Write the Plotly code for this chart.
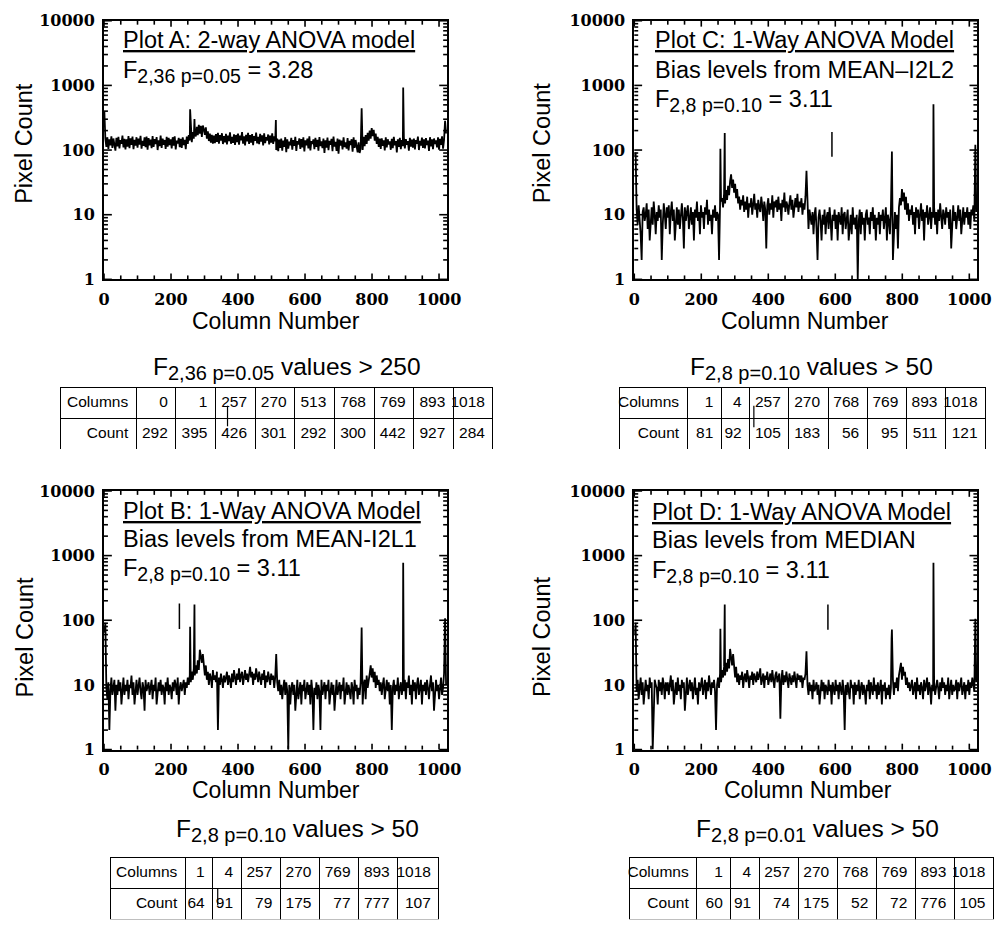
import math
import plotly.graph_objects as go

W, H = 1008, 930


def px(x):
    return x / W


def py(y):
    return 1 - y / H


# Profiles are sampled every 3rd column: 31 rows of 11 values (33 columns per row)
grid_cols = list(range(1, 1024, 3))

# Plot A: 2-way ANOVA pixel counts
counts_a = [
    230, 150, 112, 158, 104, 146, 118, 163, 108, 151, 121,   # col 1
    98, 155, 114, 160, 106, 142, 125, 168, 110, 149, 102,    # col 34
    147, 113, 165, 107, 152, 120, 161, 103, 144, 117, 158,   # col 67
    109, 150, 122, 166, 105, 139, 116, 157, 111, 162, 101,   # col 100
    153, 118, 145, 107, 164, 112, 148, 124, 159, 100, 141,   # col 133
    115, 167, 108, 150, 121, 143, 104, 160, 113, 155, 119,   # col 166
    146, 106, 158, 117, 163, 102, 140, 126, 154, 111, 149,   # col 199
    108, 157, 119, 144, 103, 161, 125, 170, 140, 185, 132,   # col 232
    190, 150, 205, 162, 228, 170, 245, 180, 236, 160, 240,   # col 265
    210, 172, 225, 150, 195, 138, 180, 130, 172, 126, 168,   # col 298
    128, 176, 134, 185, 126, 170, 140, 182, 124, 165, 131,   # col 331
    178, 122, 168, 137, 188, 125, 160, 129, 175, 120, 171,   # col 364
    133, 180, 121, 167, 142, 190, 126, 163, 118, 172, 136,   # col 397
    184, 124, 170, 130, 176, 119, 165, 139, 186, 127, 160,   # col 430
    123, 178, 135, 169, 118, 182, 128, 158, 141, 174, 122,   # col 463
    167, 130, 181, 125, 163, 137, 100, 150, 96, 145, 108,    # col 496
    151, 98, 140, 112, 158, 93, 147, 105, 135, 119, 154,     # col 529
    101, 143, 116, 160, 97, 138, 122, 152, 104, 148, 110,    # col 562
    157, 95, 141, 118, 150, 106, 163, 99, 137, 124, 146,     # col 595
    103, 155, 112, 144, 98, 159, 115, 136, 107, 151, 90,     # col 628
    142, 109, 156, 100, 139, 121, 149, 96, 162, 113, 134,    # col 661
    97, 150, 88, 145, 117, 140, 102, 157, 111, 131, 105,     # col 694
    153, 99, 139, 120, 147, 94, 158, 108, 143, 115, 92,      # col 727
    132, 90, 105, 145, 100, 160, 115, 170, 125, 185, 140,    # col 760
    200, 150, 218, 165, 205, 140, 180, 125, 160, 112, 150,   # col 793
    104, 152, 116, 141, 99, 158, 110, 147, 122, 136, 101,    # col 826
    149, 107, 160, 118, 138, 92, 146, 112, 155, 103, 142,    # col 859
    115, 159, 106, 148, 121, 137, 98, 154, 113, 145, 109,    # col 892
    150, 102, 143, 125, 161, 100, 139, 117, 156, 108, 147,   # col 925
    106, 153, 119, 140, 97, 158, 114, 146, 103, 151, 124,    # col 958
    141, 110, 157, 101, 149, 120, 163, 105, 144, 152, 180,   # col 991
]

# Plot C: 1-way ANOVA, bias levels from MEAN-I2L2
counts_c = [
    60, 60, 12, 7, 14, 9, 5, 2, 11, 13, 8,      # col 1
    10, 15, 6, 12, 4, 9, 13, 7, 16, 10, 5,      # col 34
    11, 8, 14, 9, 12, 2, 7, 15, 10, 6, 13,      # col 67
    9, 14, 5, 11, 16, 8, 12, 4, 10, 13, 7,      # col 100
    12, 6, 10, 15, 9, 3, 13, 8, 11, 14, 6,      # col 133
    10, 13, 7, 11, 4, 12, 9, 16, 8, 11, 5,      # col 166
    14, 9, 11, 6, 13, 10, 17, 7, 12, 8, 10,     # col 199
    5, 12, 9, 14, 8, 11, 10, 2, 14, 16, 18,     # col 232
    13, 21, 15, 24, 17, 28, 20, 33, 42, 26, 35, # col 265
    22, 30, 18, 25, 15, 19, 12, 17, 14, 20, 11, # col 298
    16, 12, 19, 9, 15, 13, 18, 10, 14, 21, 12,  # col 331
    15, 9, 17, 13, 11, 19, 14, 8, 16, 12, 3,    # col 364
    14, 18, 10, 15, 12, 20, 9, 16, 13, 17, 11,  # col 397
    19, 12, 15, 8, 17, 13, 22, 11, 16, 14, 10,  # col 430
    15, 20, 12, 17, 9, 14, 18, 13, 21, 11, 16,  # col 463
    13, 18, 10, 15, 12, 19, 48, 11, 6, 12, 9,   # col 496
    7, 11, 5, 10, 13, 6, 2, 9, 12, 8, 4,        # col 529
    10, 7, 12, 5, 9, 11, 6, 13, 8, 4, 10,       # col 562
    8, 12, 6, 10, 4, 11, 9, 7, 13, 5, 10,       # col 595
    11, 6, 9, 12, 4, 8, 10, 5, 13, 7, 9,        # col 628
    6, 10, 1, 8, 12, 5, 11, 7, 9, 4, 10,        # col 661
    12, 7, 9, 5, 11, 8, 13, 6, 10, 4, 9,        # col 694
    7, 11, 5, 10, 8, 12, 6, 9, 13, 4, 10,       # col 727
    8, 5, 12, 9, 2, 7, 11, 6, 10, 3, 13,        # col 760
    18, 14, 25, 16, 22, 12, 19, 10, 15, 8, 12,  # col 793
    10, 14, 7, 11, 5, 13, 9, 12, 6, 10, 15,     # col 826
    8, 12, 4, 11, 9, 14, 7, 10, 13, 6, 11,      # col 859
    9, 13, 7, 11, 5, 12, 8, 15, 10, 6, 12,      # col 892
    10, 7, 13, 9, 11, 6, 12, 3, 10, 14, 8,      # col 925
    11, 6, 9, 14, 8, 12, 5, 10, 13, 7, 11,      # col 958
    9, 13, 7, 11, 6, 12, 10, 14, 8, 15, 11,     # col 991
]

# Plot B: 1-way ANOVA, bias levels from MEAN-I2L1
counts_b = [
    64, 91, 9, 6, 11, 2, 8, 13, 7, 10, 12,      # col 1
    4, 10, 7, 12, 8, 11, 5, 9, 13, 7, 10,       # col 34
    8, 12, 6, 10, 9, 14, 7, 11, 5, 9, 12,       # col 67
    7, 10, 13, 8, 6, 11, 9, 4, 12, 8, 10,       # col 100
    11, 7, 9, 12, 6, 10, 8, 13, 5, 9, 11,       # col 133
    8, 12, 7, 10, 9, 5, 11, 8, 13, 7, 10,       # col 166
    9, 6, 11, 8, 12, 10, 7, 13, 5, 9, 11,       # col 199
    8, 10, 12, 7, 11, 9, 13, 10, 14, 11, 16,    # col 232
    12, 18, 14, 20, 15, 24, 17, 35, 28, 22, 30, # col 265
    18, 14, 20, 12, 16, 10, 15, 13, 9, 17, 12,  # col 298
    14, 11, 16, 2, 13, 10, 15, 12, 9, 14, 11,   # col 331
    13, 16, 10, 14, 12, 9, 15, 11, 17, 13, 10,  # col 364
    15, 12, 18, 11, 14, 16, 10, 13, 17, 12, 15, # col 397
    11, 14, 19, 13, 16, 10, 15, 12, 18, 14, 11, # col 430
    16, 13, 10, 15, 12, 17, 9, 14, 11, 16, 13,  # col 463
    10, 15, 12, 14, 9, 13, 30, 11, 8, 12, 7,    # col 496
    10, 6, 9, 12, 7, 11, 8, 1, 10, 5, 9,        # col 529
    11, 7, 10, 4, 9, 12, 6, 8, 11, 5, 10,       # col 562
    8, 12, 6, 9, 11, 7, 10, 5, 12, 8, 2,        # col 595
    9, 7, 11, 6, 10, 8, 2, 12, 7, 9, 11,        # col 628
    6, 10, 8, 12, 5, 9, 11, 7, 10, 4, 8,        # col 661
    12, 7, 9, 11, 6, 10, 8, 13, 5, 9, 11,       # col 694
    7, 10, 8, 6, 11, 9, 5, 12, 8, 10, 6,        # col 727
    9, 7, 11, 8, 5, 10, 12, 6, 14, 9, 11,       # col 760
    15, 20, 13, 18, 11, 16, 9, 14, 10, 12, 8,   # col 793
    11, 7, 10, 13, 6, 9, 12, 8, 11, 5, 10,      # col 826
    2, 9, 12, 7, 10, 8, 13, 6, 9, 11, 7,        # col 859
    10, 8, 12, 6, 11, 9, 14, 7, 10, 5, 12,      # col 892
    8, 11, 6, 10, 13, 7, 9, 12, 5, 10, 8,       # col 925
    11, 7, 12, 9, 6, 10, 14, 8, 11, 4, 9,       # col 958
    12, 8, 10, 6, 11, 13, 7, 9, 15, 12, 10,     # col 991
]

# Plot D: 1-way ANOVA, bias levels from MEDIAN
counts_d = [
    60, 91, 8, 12, 6, 10, 13, 7, 11, 5, 9,      # col 1
    12, 8, 10, 6, 13, 9, 11, 1, 7, 12, 10,      # col 34
    9, 5, 12, 8, 11, 7, 13, 10, 6, 11, 8,       # col 67
    11, 7, 10, 14, 8, 12, 5, 9, 11, 7, 13,      # col 100
    8, 10, 6, 12, 9, 11, 4, 10, 13, 7, 9,       # col 133
    12, 8, 11, 6, 10, 13, 7, 9, 5, 11, 8,       # col 166
    10, 13, 7, 9, 12, 6, 11, 8, 14, 10, 7,      # col 199
    11, 9, 12, 8, 2, 10, 13, 9, 15, 11, 17,     # col 232
    13, 19, 14, 22, 16, 25, 18, 36, 27, 20, 30, # col 265
    17, 13, 19, 11, 15, 10, 14, 12, 16, 9, 13,  # col 298
    15, 11, 17, 13, 9, 14, 12, 16, 10, 15, 13,  # col 331
    11, 16, 12, 14, 18, 10, 13, 15, 9, 14, 12,  # col 364
    16, 10, 13, 15, 11, 17, 12, 9, 14, 16, 11,  # col 397
    13, 15, 3, 12, 17, 10, 14, 11, 16, 13, 9,   # col 430
    15, 12, 10, 14, 11, 16, 13, 9, 15, 12, 14,  # col 463
    11, 14, 9, 13, 12, 15, 33, 10, 7, 11, 8,    # col 496
    10, 6, 12, 8, 9, 11, 7, 10, 5, 9, 12,       # col 529
    8, 11, 6, 10, 9, 7, 12, 8, 10, 5, 11,       # col 562
    9, 7, 12, 8, 10, 6, 11, 9, 7, 12, 8,        # col 595
    2, 10, 7, 11, 8, 6, 12, 9, 10, 5, 11,       # col 628
    7, 10, 8, 12, 6, 9, 11, 7, 10, 8, 5,        # col 661
    10, 8, 12, 6, 11, 9, 7, 13, 8, 10, 6,       # col 694
    11, 7, 9, 12, 5, 10, 8, 11, 6, 9, 7,        # col 727
    10, 6, 9, 8, 12, 7, 11, 9, 13, 8, 14,       # col 760
    17, 22, 12, 19, 14, 16, 10, 13, 9, 11, 8,   # col 793
    10, 12, 7, 9, 11, 6, 13, 8, 10, 7, 11,      # col 826
    9, 6, 12, 8, 10, 13, 7, 11, 9, 5, 10,       # col 859
    8, 11, 7, 10, 12, 9, 6, 11, 8, 13, 9,       # col 892
    11, 7, 10, 8, 13, 6, 9, 12, 7, 10, 8,       # col 925
    9, 12, 6, 11, 8, 10, 13, 7, 9, 11, 6,       # col 958
    10, 8, 12, 7, 11, 9, 13, 10, 8, 14, 11,     # col 991
]

# Columns above the F threshold and their counts (shown in the tables)
tab_a_cols = [0, 1, 257, 270, 513, 768, 769, 893, 1018]
tab_a_counts = [292, 395, 426, 301, 292, 300, 442, 927, 284]
tab_c_cols = [1, 4, 257, 270, 768, 769, 893, 1018]
tab_c_counts = [81, 92, 105, 183, 56, 95, 511, 121]
tab_b_cols = [1, 4, 257, 270, 769, 893, 1018]
tab_b_counts = [64, 91, 79, 175, 77, 777, 107]
tab_d_cols = [1, 4, 257, 270, 768, 769, 893, 1018]
tab_d_counts = [60, 91, 74, 175, 52, 72, 776, 105]

# Short pen strokes on plots B, C, D (column, low, high)
stroke_c = [590, 79, 191]
stroke_b = [225, 73, 182]
stroke_d = [578, 71, 175]

X_RANGE = [0, 1024]
Y_DECADES = 4
x_ticks = [0, 200, 400, 600, 800, 1000]
x_minor_step = 50
y_ticks = [1, 10, 100, 1000, 10000]
y_ticklabels = ["1", "10", "100", "1000", "10000"]
y_minor = [m * 10 ** e for e in range(Y_DECADES) for m in range(2, 10)]


def profile(base, cols, counts):
    s = dict(zip(grid_cols, base))
    s.update(zip(cols, counts))
    xs = sorted(s)
    return xs, [s[c] for c in xs]


SANS = "Liberation Sans"
SERIF = "DejaVu Serif"
TICKFONT = dict(family=SERIF, size=16, color="black", weight="bold")

# (data, table cols, table counts, stroke, axis suffix, left, right, top, bottom)
panels = [
    (counts_a, tab_a_cols, tab_a_counts, None, "", 100, 450, 12, 276),
    (counts_c, tab_c_cols, tab_c_counts, stroke_c, "2", 641, 991, 12, 276),
    (counts_b, tab_b_cols, tab_b_counts, stroke_b, "3", 100, 450, 492, 756),
    (counts_d, tab_d_cols, tab_d_counts, stroke_d, "4", 641, 991, 492, 756),
]

fig = go.Figure()
axes = {}
shapes = []
TICK_LINE = dict(color="black", width=1.6)


def seg(xa, ya, xb, yb):
    return dict(type="line", xref="paper", yref="paper", layer="above",
                x0=px(xa), x1=px(xb), y0=py(ya), y1=py(yb), line=TICK_LINE)


for base, tcols, tcounts, stroke, sfx, x0, x1, yt, yb in panels:
    xs, ys = profile(base, tcols, tcounts)
    fig.add_trace(go.Scatter(
        x=xs, y=ys, mode="lines", line=dict(color="black", width=1.8),
        xaxis="x" + sfx, yaxis="y" + sfx, hoverinfo="skip", showlegend=False))
    if stroke:
        fig.add_trace(go.Scatter(
            x=[stroke[0], stroke[0]], y=[stroke[1], stroke[2]], mode="lines",
            line=dict(color="black", width=1.5),
            xaxis="x" + sfx, yaxis="y" + sfx, hoverinfo="skip", showlegend=False))
    axes["xaxis" + sfx] = dict(
        domain=[px(x0), px(x1)], anchor="y" + sfx, range=X_RANGE,
        tickmode="array", tickvals=x_ticks, ticktext=[str(v) for v in x_ticks],
        ticks="", showline=True, linecolor="black", linewidth=2, mirror=True,
        showgrid=False, zeroline=False, tickfont=TICKFONT, ticklabelstandoff=4,
    )
    axes["yaxis" + sfx] = dict(
        domain=[py(yb), py(yt)], anchor="x" + sfx, type="log", range=[0, Y_DECADES],
        tickmode="array", tickvals=y_ticks, ticktext=y_ticklabels,
        ticks="", showline=True, linecolor="black", linewidth=2, mirror=True,
        showgrid=False, zeroline=False, tickfont=TICKFONT, ticklabelstandoff=4,
    )

    # inward tick marks on all four sides of the frame, placed with the axis scales
    def xpix(v):
        return x0 + (v - X_RANGE[0]) / (X_RANGE[1] - X_RANGE[0]) * (x1 - x0)

    def ypix(v):
        return yb - math.log10(v) / Y_DECADES * (yb - yt)

    for v in range(X_RANGE[0], X_RANGE[1] + 1, x_minor_step):
        ln = 6 if v in x_ticks else 4
        xv = xpix(v)
        shapes.append(seg(xv, yb, xv, yb - ln))
        shapes.append(seg(xv, yt, xv, yt + ln))
    for v in y_ticks + y_minor:
        ln = 8 if v in y_ticks else 4
        yv = ypix(v)
        shapes.append(seg(x0, yv, x0 + ln, yv))
        shapes.append(seg(x1, yv, x1 - ln, yv))


def table(cols, counts, widths, x0, x1, y0, y1, rowh):
    style = dict(align="right", height=rowh, fill_color="white",
                 line=dict(color="black", width=1),
                 font=dict(family=SANS, size=15.5, color="black"))
    return go.Table(
        domain=dict(x=[px(x0), min(1.0, px(x1))], y=[py(y1), py(y0)]),
        columnwidth=widths,
        header=dict(values=["Columns"] + [str(c) for c in cols], **style),
        cells=dict(values=[["Count"]] + [[str(v)] for v in counts], **style),
    )


fig.add_trace(table(tab_a_cols, tab_a_counts, [77] + [40.5] * 9, 56, 497.5, 386, 450, 31))
fig.add_trace(table(tab_c_cols, tab_c_counts, [69, 35, 29, 40, 40, 40, 40, 40, 41], 626, 1000, 386, 450, 31))
fig.add_trace(table(tab_b_cols, tab_b_counts, [76, 28, 29, 40, 40, 40, 40, 42], 107, 442, 866, 930, 31))
fig.add_trace(table(tab_d_cols, tab_d_counts, [69, 35, 29, 40, 40, 40, 40, 40, 40], 636, 1009, 866, 930, 31))

SUB = '<sub><span style="font-size:19.5px">{}</span></sub>'
TSUB = '<sub><span style="font-size:20px">{}</span></sub>'

notes = [
    ("<u>Plot A: 2-way ANOVA model</u>", 117, 32),
    ("F" + SUB.format("2,36 p=0.05") + " = 3.28", 117, 64),
    ("<u>Plot C: 1-Way ANOVA Model</u>", 660, 32),
    ("Bias levels from MEAN\u2013I2L2", 660, 62),
    ("F" + SUB.format("2,8 p=0.10") + " = 3.11", 660, 94),
    ("<u>Plot B: 1-Way ANOVA Model</u>", 117, 512),
    ("Bias levels from MEAN-I2L1", 117, 541),
    ("F" + SUB.format("2,8 p=0.10") + " = 3.11", 117, 573),
    ("<u>Plot D: 1-Way ANOVA Model</u>", 657, 513),
    ("Bias levels from MEDIAN", 657, 542),
    ("F" + SUB.format("2,8 p=0.10") + " = 3.11", 657, 575),
]
ann = []
for text, x, y in notes:
    ann.append(dict(text=text, x=px(x), y=py(y), xref="paper", yref="paper",
                    xanchor="left", yanchor="middle", showarrow=False,
                    font=dict(family=SANS, size=23.5, color="black")))

titles = [
    ("F" + TSUB.format("2,36 p=0.05") + " values > 250", 287, 367),
    ("F" + TSUB.format("2,8 p=0.10") + " values > 50", 822, 367),
    ("F" + TSUB.format("2,8 p=0.10") + " values > 50", 297, 839),
    ("F" + TSUB.format("2,8 p=0.01") + " values > 50", 828, 839),
]
for text, x, y in titles:
    ann.append(dict(text=text, x=px(x), y=py(y), xref="paper", yref="paper",
                    xanchor="center", yanchor="middle", showarrow=False,
                    font=dict(family=SANS, size=24.5, color="black")))

for x, y in [(19, 137), (547, 137), (19, 641), (547, 641)]:
    ann.append(dict(text="Pixel Count", x=px(x), y=py(y), xref="paper", yref="paper",
                    xanchor="center", yanchor="middle", showarrow=False, textangle=-90,
                    font=dict(family=SANS, size=23.5, color="black")))
for x, y in [(275, 318), (815, 318), (275, 797), (818, 797)]:
    ann.append(dict(text="Column Number", x=px(x), y=py(y), xref="paper", yref="paper",
                    xanchor="center", yanchor="middle", showarrow=False,
                    font=dict(family=SANS, size=23, color="black")))

# Short pen strokes across table cells
cell_strokes = [(226, 405, 426), (763, 405, 427), (216, 898, 915)]
for x, a, b in cell_strokes:
    shapes.append(dict(type="line", xref="paper", yref="paper", x0=px(x), x1=px(x),
                       y0=py(a), y1=py(b), line=dict(color="black", width=1.2)))

fig.update_layout(
    width=W, height=H, margin=dict(l=0, r=0, t=0, b=0),
    paper_bgcolor="white", plot_bgcolor="white",
    showlegend=False, annotations=ann, shapes=shapes, **axes,
)

fig.write_html("out.html")
